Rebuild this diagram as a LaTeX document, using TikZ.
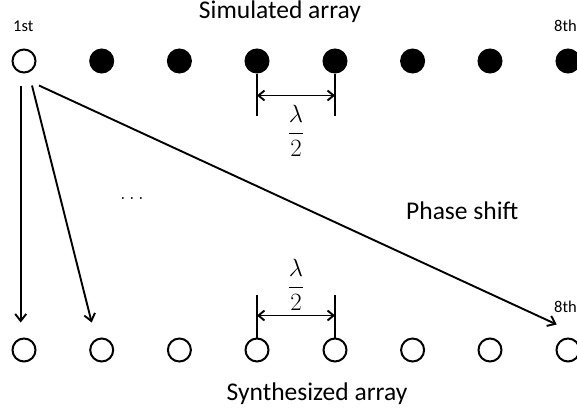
\documentclass[tikz,border=0pt]{standalone}
\usepackage[no-math]{fontspec}
\setmainfont{Carlito}
\usetikzlibrary{arrows.meta}
\begin{document}
\begin{tikzpicture}[x=1pt,y=-1pt,
  elem/.style={circle,draw,line width=2pt,minimum size=23pt,inner sep=0pt},
  filled/.style={elem,fill=black},
  arr/.style={line width=1.9pt,-{Straight Barb[length=7pt,width=11pt,line width=1.9pt]}},
  dim/.style={line width=1.9pt,{Straight Barb[length=6pt,width=10pt,line width=1.9pt]}-{Straight Barb[length=6pt,width=10pt,line width=1.9pt]}},
  tick/.style={line width=2.1pt},
  lbl/.style={inner sep=0pt,font=\fontsize{25.5}{30}\selectfont},
  small/.style={inner sep=0pt,font=\fontsize{16.5}{19}\selectfont},
  frac/.style={inner sep=0pt,font=\fontsize{25}{30}\selectfont}]
\useasboundingbox (0,0) rectangle (577,412);
% top row
\node[elem] (t1) at (24,61) {};
\foreach \i/\x in {2/101.7,3/179.4,4/257,5/335,6/412.6,7/490,8/568}
  \node[filled] (t\i) at (\x,61) {};
% bottom row
\foreach \i/\x in {1/24,2/101.7,3/179.4,4/257,5/335,6/412.6,7/490,8/568}
  \node[elem] (b\i) at (\x,350) {};
% labels
\node[lbl,anchor=base] (sim) at (280,19) {Simulated array};
\node[lbl,anchor=base] (syn) at (317,400) {Synthesized array};
\node[lbl,anchor=base west] (phase) at (406,219) {Phase shift};
\node[small,anchor=base west] (first) at (13,32) {1st};
\node[small,anchor=base west] (eighthtop) at (554,32) {8th};
\node[small,anchor=base west] (eighthbot) at (554,312) {8th};
\node[inner sep=0pt,font=\fontsize{20}{24}\selectfont] (dots) at (132,198) {$\ldots$};
% arrows
\coordinate (s1) at ([xshift=-3.3pt,yshift=-12pt]t1.south);
\coordinate (s2) at ([xshift=8pt,yshift=-12pt]t1.south);
\coordinate (s3) at ([xshift=15pt,yshift=-12pt]t1.south);
\coordinate (e1) at ([xshift=-3.3pt,yshift=15pt]b1.north);
\coordinate (e2) at ([xshift=-10pt,yshift=15pt]b2.north);
\coordinate (e3) at ([xshift=-11.3pt,yshift=13pt]b8.north);
\draw[arr] (s1) -- (e1);
\draw[arr] (s2) -- (e2);
\draw[arr] (s3) -- (e3);
% top dimension
\draw[tick] (t4.south) -- ++(0,42) coordinate (ta);
\draw[tick] (t5.south) -- ++(0,42) coordinate (tb);
\draw[dim] ([yshift=20pt]ta) -- ([yshift=20pt]tb);
\node[frac] (ftop) at (296,131) {$\displaystyle\frac{\lambda}{2}$};
% bottom dimension
\draw[tick] (b4.north) -- ++(0,-43) coordinate (ba);
\draw[tick] (b5.north) -- ++(0,-43) coordinate (bb);
\draw[dim] ([yshift=-21pt]ba) -- ([yshift=-21pt]bb);
\node[frac] (fbot) at (296,285) {$\displaystyle\frac{\lambda}{2}$};
\end{tikzpicture}
\end{document}
